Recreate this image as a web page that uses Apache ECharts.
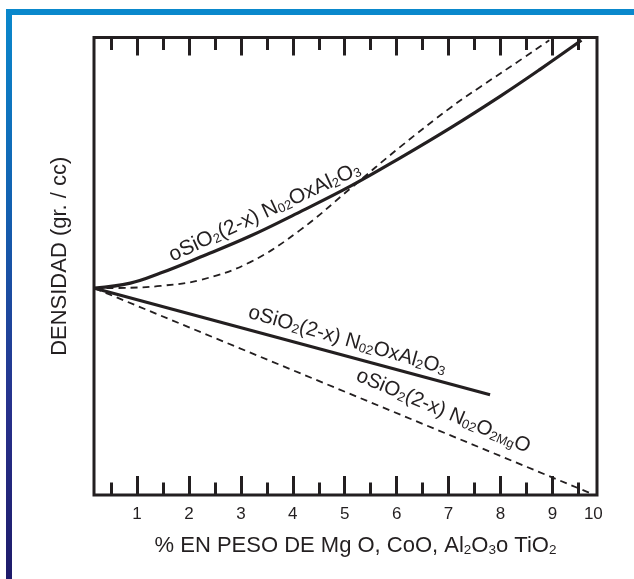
<!DOCTYPE html>
<html><head><meta charset="utf-8">
<script src="https://cdn.jsdelivr.net/npm/echarts@6/dist/echarts.min.js"></script>
<style>html,body{margin:0;padding:0;background:#fff}#c{width:634px;height:579px}</style>
</head><body><div id="c"></div>
<script>
// ---- data ----
const tickLabels = ['1','2','3','4','5','6','7','8','9','10'];
const tickLabelValues = [1,2,3,4,5,6,7,8,9,9.79];
const majorTicks = [1,2,3,4,5,6,7,8,9];
const minorTicks = [0.5,1.5,2.5,3.5,4.5,5.5,6.5,7.5,8.5,9.5];

const upperSolidX = [0.18, 0.87, 1.45, 2.22, 3.18, 4.14, 5.11, 6.07, 7.03, 8.00, 8.77, 9.56];
const upperSolidY = [45.2, 46.3, 48.5, 52.0, 56.6, 61.9, 67.5, 73.7, 80.2, 87.2, 93.1, 99.4];
const upperDashX  = [0.18, 0.87, 1.45, 2.22, 3.18, 4.14, 5.11, 6.07, 7.03, 7.61, 8.19, 8.94];
const upperDashY  = [45.2, 45.3, 45.7, 47.0, 50.9, 57.9, 67.0, 76.1, 84.6, 89.2, 93.6, 99.4];
const lowerSolidX = [0.18, 7.80];
const lowerSolidY = [45.2, 21.9];
const lowerDashX  = [0.18, 9.73];
const lowerDashY  = [45.2, 0.4];

const xTitle = '% EN PESO DE Mg O, CoO, Al{s|2}O{s|3}o TiO{s|2}';
const yTitle = 'DENSIDAD (gr. / cc)';
const labelUpper = 'oSiO{s|2}(2-x) N{s|02}OxAl{s|2}O{s|3}';
const labelLowerSolid = 'oSiO{s|2}(2-x) N{s|02}OxAl{s|2}O{s|3}';
const labelLowerDash = 'oSiO{s|2}(2-x) N{s|02}O{s|2Mg}O';

// ---- build ----
const INK = '#231f20';
const FONT = '"Liberation Sans", Arial, sans-serif';
const zip = (xs, ys) => xs.map((x, i) => [x, ys[i]]);
const XMIN = 0.17, XMAX = 9.86;

function xAx(pos, ticks, len, labels) {
  return {
    type: 'value', position: pos, min: XMIN, max: XMAX,
    axisLine: { show: false },
    splitLine: { show: false },
    axisTick: { show: true, inside: true, length: len, customValues: ticks,
      lineStyle: { color: INK, width: 3 } },
    axisLabel: labels ? {
      show: true, customValues: tickLabelValues, margin: 11,
      fontSize: 17, color: INK, fontFamily: FONT,
      formatter: v => {
        let best = 0, d = Infinity;
        tickLabelValues.forEach((t, i) => { if (Math.abs(t - v) < d) { d = Math.abs(t - v); best = i; } });
        return tickLabels[best];
      }
    } : { show: false }
  };
}

const chart = echarts.init(document.getElementById('c'), null, { renderer: 'canvas' });
const richS = { s: { fontSize: 13.5, fontFamily: FONT, color: INK, verticalAlign: 'bottom' } };

const option = {
  backgroundColor: '#fff',
  animation: false,
  grid: { left: 94, top: 37.5, width: 503, height: 457.5, show: true,
    borderColor: INK, borderWidth: 3, backgroundColor: 'transparent', containLabel: false },
  xAxis: [
    Object.assign(xAx('bottom', majorTicks, 19, true), {
      name: xTitle, nameLocation: 'middle', nameGap: 40,
      nameTextStyle: { fontSize: 22, color: INK, fontFamily: FONT, rich: richS, padding: [0, 0, 0, 20] }
    }),
    xAx('bottom', minorTicks, 12.5, false),
    xAx('top', majorTicks, 18, false),
    xAx('top', minorTicks, 12.5, false)
  ],
  yAxis: {
    type: 'value', min: 0, max: 100,
    axisLine: { show: false }, axisTick: { show: false }, axisLabel: { show: false },
    splitLine: { show: false },
    name: yTitle, nameLocation: 'middle', nameGap: 23, nameRotate: 90,
    nameTextStyle: { fontSize: 22, color: INK, fontFamily: FONT, padding: [0, 0, 0, 20] }
  },
  series: [
    { type: 'line', data: zip(upperSolidX, upperSolidY), smooth: 0.4, symbol: 'none',
      lineStyle: { color: INK, width: 3.2 } },
    { type: 'line', data: zip(upperDashX, upperDashY), smooth: 0.4, symbol: 'none',
      lineStyle: { color: INK, width: 1.8, type: [7, 5] } },
    { type: 'line', data: zip(lowerSolidX, lowerSolidY), symbol: 'none',
      lineStyle: { color: INK, width: 3.2 } },
    { type: 'line', data: zip(lowerDashX, lowerDashY), symbol: 'none',
      lineStyle: { color: INK, width: 1.8, type: [7, 5] } }
  ]
};
chart.setOption(option);

function curveLabel(text, dataPt, deg, size) {
  const p = chart.convertToPixel({ gridIndex: 0 }, dataPt);
  return {
    type: 'text', x: p[0], y: p[1], rotation: deg * Math.PI / 180, silent: true,
    style: { text: text, fill: INK, fontSize: size, fontFamily: FONT,
      align: 'center', verticalAlign: 'middle',
      rich: { s: { fontSize: 13, fontFamily: FONT, fill: INK, verticalAlign: 'bottom' } } }
  };
}

chart.setOption({
  graphic: [
    { type: 'rect', shape: { x: 6, y: 9, width: 628, height: 6 }, style: { fill: '#0a88cc' }, silent: true },
    { type: 'rect', shape: { x: 6, y: 9, width: 6, height: 570 }, silent: true,
      style: { fill: new echarts.graphic.LinearGradient(0, 0, 0, 1, [
        { offset: 0, color: '#0a88cc' }, { offset: 0.35, color: '#1360b0' },
        { offset: 0.7, color: '#27318c' }, { offset: 1, color: '#1e1b6a' }]) } },
    curveLabel(labelUpper, [3.46, 61.8], 25, 21),
    curveLabel(labelLowerSolid, [5.05, 33.8], -16, 20.5),
    curveLabel(labelLowerDash, [6.9, 18.3], -23, 20.5)
  ]
});
</script></body></html>
